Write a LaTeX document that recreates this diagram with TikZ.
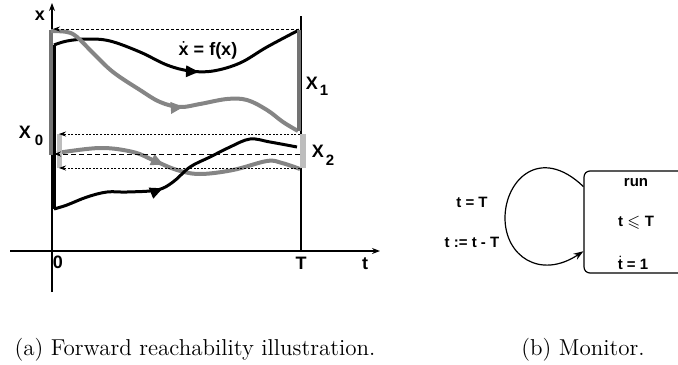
\documentclass[tikz,border=0pt]{standalone}
\usepackage{amsmath}
\usepackage{amssymb}
\usepackage{fontspec}
\newfontfamily\figfont{Liberation Sans}
\usetikzlibrary{arrows.meta, positioning, decorations.markings}
\definecolor{setgray}{gray}{0.45}
\definecolor{trajgray}{gray}{0.52}
\definecolor{lightset}{gray}{0.74}

\begin{document}
\begin{tikzpicture}[x=0.5pt, y=-0.5pt,
  lbl/.style={font=\figfont\bfseries\fontsize{9}{10}\selectfont, inner sep=0pt},
  mlbl/.style={font=\figfont\bfseries\fontsize{7.5}{9}\selectfont, inner sep=0pt},
  captext/.style={font=\fontsize{11.5}{14}\selectfont, anchor=base},
  axis/.style={line width=0.6pt, -{Stealth[length=4pt, width=3pt]}},
  proj/.style={line width=0.4pt, dash pattern=on 1.5pt off 1pt, -{Stealth[length=3.5pt, width=2.5pt]}},
  traj/.style={line width=1.5pt, postaction={decorate},
    decoration={markings, mark=at position #1 with {\arrow{Triangle[length=6.5pt, width=5.5pt]}}}},
  gtraj/.style={traj=#1, color=trajgray, line width=2pt},
  monbox/.style={draw, line width=0.6pt, rounded corners=3pt, minimum width=50pt,
                 minimum height=51pt, inner sep=0pt}
]
\useasboundingbox (0,0) rectangle (678,364);

% axes
\coordinate (O) at (52,251);
\coordinate (Tb) at (301,251);
\draw[axis] (52,292) -- (52,3);
\draw[axis] (10,251) -- (380,251);
\draw[line width=0.6pt] (Tb) -- (301,16);
\node[lbl] (xlab) at (40,16) {x};
\node[lbl] (zero) at (58,262) {0};
\node[lbl] (tT) at (301,263) {T};
\node[lbl] (tlab) at (365,264) {t};

% initial sets
\draw[line width=1.5pt] (54,45) -- (54,209);
\draw[setgray, line width=1.7pt] (51,30) -- (51,155);

% trajectories
\draw[traj=0.58] plot[smooth, tension=0.6] coordinates {(54,45) (67,41) (87,39) (110,41) (140,52)
  (167,65) (190,71) (213,71) (240,63) (267,47) (299,30)};
\draw[gtraj=0.56] plot[smooth, tension=0.6] coordinates {(51,31) (67,32) (77,37) (93,53) (113,72)
  (140,90) (160,102) (180,107) (200,104) (227,99) (247,100) (267,110) (283,122) (298,131)};
\draw[gtraj=0.44] plot[smooth, tension=0.6] coordinates {(57,153) (100,148) (133,152) (155,161)
  (177,170) (200,174) (233,170) (267,161) (282,163) (300,169)};
\draw[traj=0.43] plot[smooth, tension=0.6] coordinates {(54,209) (67,205) (87,197) (107,192)
  (127,192) (157,190) (173,182) (190,167) (210,157) (230,147) (250,139) (270,142) (297,147)};

% reached sets
\draw[lightset, line width=2.5pt] (59,134) -- (59,168);
\draw[lightset, line width=3pt] (303,134) -- (303,168);
\draw[setgray, line width=1.7pt] (299,30) -- (299,131);

% projections back to t = 0
\draw[proj] (299,29) -- (53,29);
\draw[proj, dash pattern=on 1pt off 0.8pt] (300,134) -- (59,134);
\draw[proj, line width=0.5pt, dash pattern=on 2.5pt off 1.5pt] (300,154) -- (54,154);
\draw[proj, dash pattern=on 1pt off 0.8pt] (300,168) -- (59,168);

\node[lbl] (flow) at (208,50) {$\dot{\text{x}}$ = f(x)};
\node[lbl] (X1) at (317,86) {X\kern1pt\raisebox{-0.6ex}{\fontsize{7.5}{8}\selectfont 1}};
\node[lbl] (X0) at (31,136) {X\kern2pt\raisebox{-0.8ex}{\fontsize{7.5}{8}\selectfont 0}};
\node[lbl] (X2) at (323,155) {X\kern1pt\raisebox{-0.8ex}{\fontsize{7.5}{8}\selectfont 2}};

% monitor
\node[monbox] (mon) at (634,222) {};
\node[mlbl] (run) at (636,183) {run};
\node[mlbl] (inv) at (636,223) {t $\leqslant$ T};
\node[mlbl] (rate) at (633,263) {$\dot{\text{t}}$ = 1};
\node[mlbl] (guard) at (472,202) {t = T};
\node[mlbl] (reset) at (472,242) {t := t - T};
\draw[line width=0.6pt, -{Stealth[length=5pt, width=3.5pt]}] (mon.145)
  .. controls (540,145) and (505,180) .. (505,218)
  .. controls (505,256) and (540,280) .. (mon.210);

% captions
\node[captext] (capa) at (195,355) {(a) Forward reachability illustration.};
\node[captext] (capb) at (583,355) {(b) Monitor.};
\end{tikzpicture}
\end{document}
